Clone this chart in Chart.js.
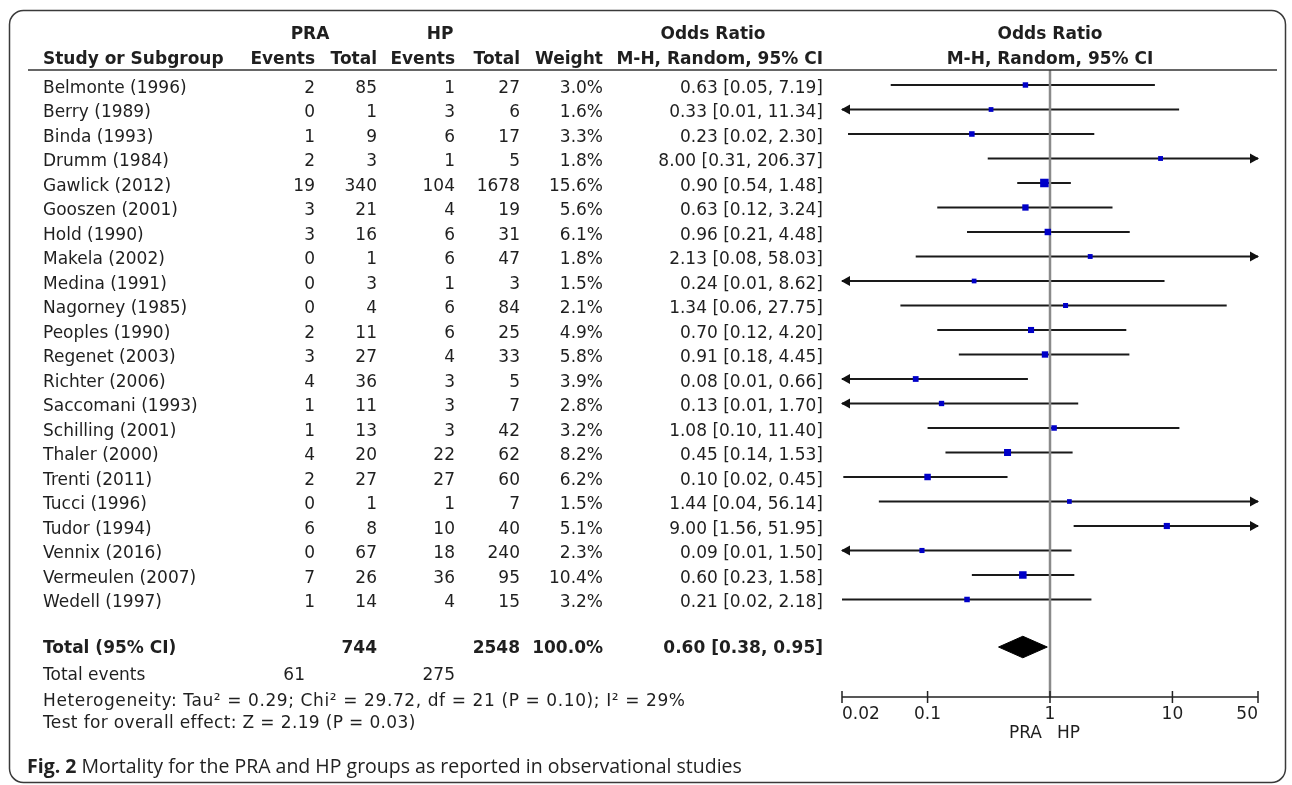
<!DOCTYPE html>
<html>
<head>
<meta charset="utf-8">
<script src="https://cdn.jsdelivr.net/npm/chart.js@4.4.0/dist/chart.umd.min.js"></script>
<style>
html, body { margin: 0; padding: 0; background: #fff; }
canvas { display: block; }
</style>
</head>
<body>
<canvas id="forest" width="1292" height="785"></canvas>
<script>
// study data
var studies = ["Belmonte (1996)", "Berry (1989)", "Binda (1993)", "Drumm (1984)", "Gawlick (2012)",
	"Gooszen (2001)", "Hold (1990)", "Makela (2002)", "Medina (1991)", "Nagorney (1985)",
	"Peoples (1990)", "Regenet (2003)", "Richter (2006)", "Saccomani (1993)", "Schilling (2001)",
	"Thaler (2000)", "Trenti (2011)", "Tucci (1996)", "Tudor (1994)", "Vennix (2016)",
	"Vermeulen (2007)", "Wedell (1997)"];
var praEvents = [2, 0, 1, 2, 19, 3, 3, 0, 0, 0, 2, 3, 4, 1, 1, 4, 2, 0, 6, 0, 7, 1];
var praTotal  = [85, 1, 9, 3, 340, 21, 16, 1, 3, 4, 11, 27, 36, 11, 13, 20, 27, 1, 8, 67, 26, 14];
var hpEvents  = [1, 3, 6, 1, 104, 4, 6, 6, 1, 6, 6, 4, 3, 3, 3, 22, 27, 1, 10, 18, 36, 4];
var hpTotal   = [27, 6, 17, 5, 1678, 19, 31, 47, 3, 84, 25, 33, 5, 7, 42, 62, 60, 7, 40, 240, 95, 15];
var weights   = [3.0, 1.6, 3.3, 1.8, 15.6, 5.6, 6.1, 1.8, 1.5, 2.1, 4.9, 5.8, 3.9, 2.8, 3.2, 8.2, 6.2, 1.5, 5.1, 2.3, 10.4, 3.2];
var oddsRatio = [0.63, 0.33, 0.23, 8.00, 0.90, 0.63, 0.96, 2.13, 0.24, 1.34, 0.70, 0.91, 0.08, 0.13, 1.08, 0.45, 0.10, 1.44, 9.00, 0.09, 0.60, 0.21];
var ciLow     = [0.05, 0.01, 0.0224, 0.31, 0.54, 0.12, 0.21, 0.08, 0.01, 0.06, 0.12, 0.18, 0.01, 0.01, 0.10, 0.14, 0.0205, 0.04, 1.56, 0.01, 0.23, 0.02];
var ciHigh    = [7.19, 11.34, 2.30, 206.37, 1.48, 3.24, 4.48, 58.03, 8.62, 27.75, 4.20, 4.45, 0.66, 1.70, 11.40, 1.53, 0.45, 56.14, 51.95, 1.50, 1.58, 2.18];

var totalPra = 744, totalHp = 2548, totalWeight = 100.0;
var pooled = [0.60, 0.38, 0.95];
var totalEventsPra = 61, totalEventsHp = 275;
var heterogeneity = "Heterogeneity: Tau\u00b2 = 0.29; Chi\u00b2 = 29.72, df = 21 (P = 0.10); I\u00b2 = 29%";
var overallEffect = "Test for overall effect: Z = 2.19 (P = 0.03)";

var tickValues = [0.02, 0.1, 1, 10, 50];
var tickLabels = ["0.02", "0.1", "1", "10", "50"];
var axisMin = 0.02, axisMax = 50, refValue = 1;

// row layout (in row units on the y scale)
var yTop = -0.612, yBottom = 24.98, totalRow = 22.94;

var FONT = '17px "DejaVu Sans"';
var BOLD = 'bold 17px "DejaVu Sans"';
var INK = '#1f1f1f';
var colRight = [315, 377, 455, 520, 603, 823];
var studyX = 43;

var fmt = function(v) { return v.toFixed(2); };
var ciText = function(o, l, h) { return fmt(o) + ' [' + fmt(l) + ', ' + fmt(h) + ']'; };
var boxSide = function(w) { return 3 + 1.4 * Math.sqrt(w); };

var datasets = [];

// squares on top
datasets.push({
	data: studies.map(function(s, i) { return { x: oddsRatio[i], y: i }; }),
	pointStyle: 'rect',
	pointRadius: function(ctx) { return boxSide(weights[ctx.dataIndex]) / Math.SQRT2; },
	backgroundColor: '#0000c8',
	borderWidth: 0,
	order: 0
});

// pooled diamond
datasets.push({
	data: [
		{ x: pooled[1], y: totalRow },
		{ x: pooled[0], y: totalRow - 0.44 },
		{ x: pooled[2], y: totalRow },
		{ x: pooled[0], y: totalRow + 0.44 },
		{ x: pooled[1], y: totalRow }
	],
	showLine: true,
	fill: 'shape',
	backgroundColor: '#000',
	borderColor: '#000',
	borderWidth: 1,
	pointRadius: 0,
	order: 1
});

// line of no effect
datasets.push({
	data: [{ x: refValue, y: yTop }, { x: refValue, y: yBottom }],
	showLine: true,
	borderColor: '#8a8a8a',
	borderWidth: 2.5,
	pointRadius: 0,
	order: 2
});

// confidence intervals, clipped to the axis range
studies.forEach(function(s, i) {
	datasets.push({
		data: [
			{ x: Math.max(ciLow[i], axisMin), y: i },
			{ x: Math.min(ciHigh[i], axisMax), y: i }
		],
		showLine: true,
		borderColor: '#1a1a1a',
		borderWidth: 2,
		pointRadius: 0,
		order: 3
	});
});

var forestPlugin = {
	id: 'forest',
	beforeDraw: function(chart) {
		var ctx = chart.ctx;
		ctx.save();
		ctx.fillStyle = '#fff';
		ctx.fillRect(0, 0, chart.width, chart.height);
		ctx.strokeStyle = '#3a3a3a';
		ctx.lineWidth = 1.5;
		ctx.beginPath();
		ctx.roundRect(9.5, 10.5, 1276, 772, 14);
		ctx.stroke();
		ctx.restore();
	},
	afterDatasetsDraw: function(chart) {
		// arrows where the interval runs off the axis
		var ctx = chart.ctx, xs = chart.scales.x, ys = chart.scales.y;
		ctx.save();
		ctx.fillStyle = '#111';
		studies.forEach(function(s, i) {
			var y = ys.getPixelForValue(i);
			if (ciLow[i] < axisMin) {
				var x0 = xs.getPixelForValue(axisMin);
				ctx.beginPath();
				ctx.moveTo(x0 - 1, y);
				ctx.lineTo(x0 + 8, y - 5);
				ctx.lineTo(x0 + 8, y + 5);
				ctx.closePath();
				ctx.fill();
			}
			if (ciHigh[i] > axisMax) {
				var x1 = xs.getPixelForValue(axisMax);
				ctx.beginPath();
				ctx.moveTo(x1 + 1, y);
				ctx.lineTo(x1 - 8, y - 5);
				ctx.lineTo(x1 - 8, y + 5);
				ctx.closePath();
				ctx.fill();
			}
		});
		ctx.restore();
	},
	afterDraw: function(chart) {
		var ctx = chart.ctx, xs = chart.scales.x, ys = chart.scales.y;
		var area = chart.chartArea;
		var midX = xs.getPixelForValue(refValue);
		ctx.save();
		ctx.fillStyle = INK;
		ctx.textBaseline = 'alphabetic';

		// headers
		ctx.font = BOLD;
		ctx.textAlign = 'center';
		ctx.fillText('PRA', 310, 39);
		ctx.fillText('HP', 440, 39);
		ctx.fillText('Odds Ratio', 713, 39);
		ctx.fillText('Odds Ratio', midX, 39);
		ctx.fillText('M-H, Random, 95% CI', midX, 64);
		ctx.textAlign = 'left';
		ctx.fillText('Study or Subgroup', studyX, 64);
		ctx.textAlign = 'right';
		['Events', 'Total', 'Events', 'Total', 'Weight', 'M-H, Random, 95% CI'].forEach(function(t, k) {
			ctx.fillText(t, colRight[k], 64);
		});

		// header rule
		ctx.strokeStyle = '#333';
		ctx.lineWidth = 1.5;
		ctx.beginPath();
		ctx.moveTo(28, area.top);
		ctx.lineTo(1277, area.top);
		ctx.stroke();

		// study rows
		ctx.font = FONT;
		studies.forEach(function(s, i) {
			var y = ys.getPixelForValue(i) + 8;
			ctx.textAlign = 'left';
			ctx.fillText(s, studyX, y);
			ctx.textAlign = 'right';
			var cells = [praEvents[i], praTotal[i], hpEvents[i], hpTotal[i],
				weights[i].toFixed(1) + '%', ciText(oddsRatio[i], ciLow[i], ciHigh[i])];
			cells.forEach(function(c, k) { ctx.fillText(String(c), colRight[k], y); });
		});

		// total row
		var ty = ys.getPixelForValue(totalRow) + 6;
		ctx.font = BOLD;
		ctx.textAlign = 'left';
		ctx.fillText('Total (95% CI)', studyX, ty);
		ctx.textAlign = 'right';
		ctx.fillText(String(totalPra), colRight[1], ty);
		ctx.fillText(String(totalHp), colRight[3], ty);
		ctx.fillText(totalWeight.toFixed(1) + '%', colRight[4], ty);
		ctx.fillText(ciText(pooled[0], pooled[1], pooled[2]), colRight[5], ty);

		ctx.font = FONT;
		ctx.textAlign = 'left';
		ctx.fillText('Total events', studyX, 680);
		ctx.letterSpacing = '0.6px';
		ctx.fillText(heterogeneity, studyX, 706);
		ctx.letterSpacing = '0.35px';
		ctx.fillText(overallEffect, studyX, 728);
		ctx.letterSpacing = '0px';
		ctx.textAlign = 'right';
		ctx.fillText(String(totalEventsPra), 305, 680);
		ctx.fillText(String(totalEventsHp), colRight[2], 680);

		// x axis
		var ay = area.bottom;
		ctx.strokeStyle = '#222';
		ctx.lineWidth = 1.5;
		ctx.beginPath();
		ctx.moveTo(xs.getPixelForValue(axisMin), ay);
		ctx.lineTo(xs.getPixelForValue(axisMax), ay);
		tickValues.forEach(function(v) {
			var px = xs.getPixelForValue(v);
			ctx.moveTo(px, ay - 6);
			ctx.lineTo(px, ay + 6);
		});
		ctx.stroke();
		ctx.font = FONT;
		tickValues.forEach(function(v, k) {
			var px = xs.getPixelForValue(v);
			ctx.textAlign = k === 0 ? 'left' : (k === tickValues.length - 1 ? 'right' : 'center');
			ctx.fillText(tickLabels[k], px, ay + 22);
		});
		ctx.textAlign = 'right';
		ctx.fillText('PRA', midX - 8, ay + 41);
		ctx.textAlign = 'left';
		ctx.fillText('HP', midX + 7, ay + 41);

		// caption
		ctx.fillStyle = '#222';
		ctx.font = 'bold 19.5px "Open Sans"';
		ctx.fillText('Fig. 2', 27, 773);
		var w = ctx.measureText('Fig. 2').width;
		ctx.font = '19.5px "Open Sans"';
		ctx.fillText(' Mortality for the PRA and HP groups as reported in observational studies', 27 + w, 773);
		ctx.restore();
	}
};

new Chart(document.getElementById('forest'), {
	type: 'scatter',
	data: { datasets: datasets },
	options: {
		responsive: false,
		animation: false,
		events: [],
		layout: { padding: { left: 842, right: 34, top: 70, bottom: 88 } },
		plugins: { legend: { display: false }, tooltip: { enabled: false } },
		scales: {
			x: { type: 'logarithmic', min: axisMin, max: axisMax, bounds: 'data', display: false },
			y: { type: 'linear', min: yTop, max: yBottom, reverse: true, display: false }
		}
	},
	plugins: [forestPlugin]
});
</script>
</body>
</html>
